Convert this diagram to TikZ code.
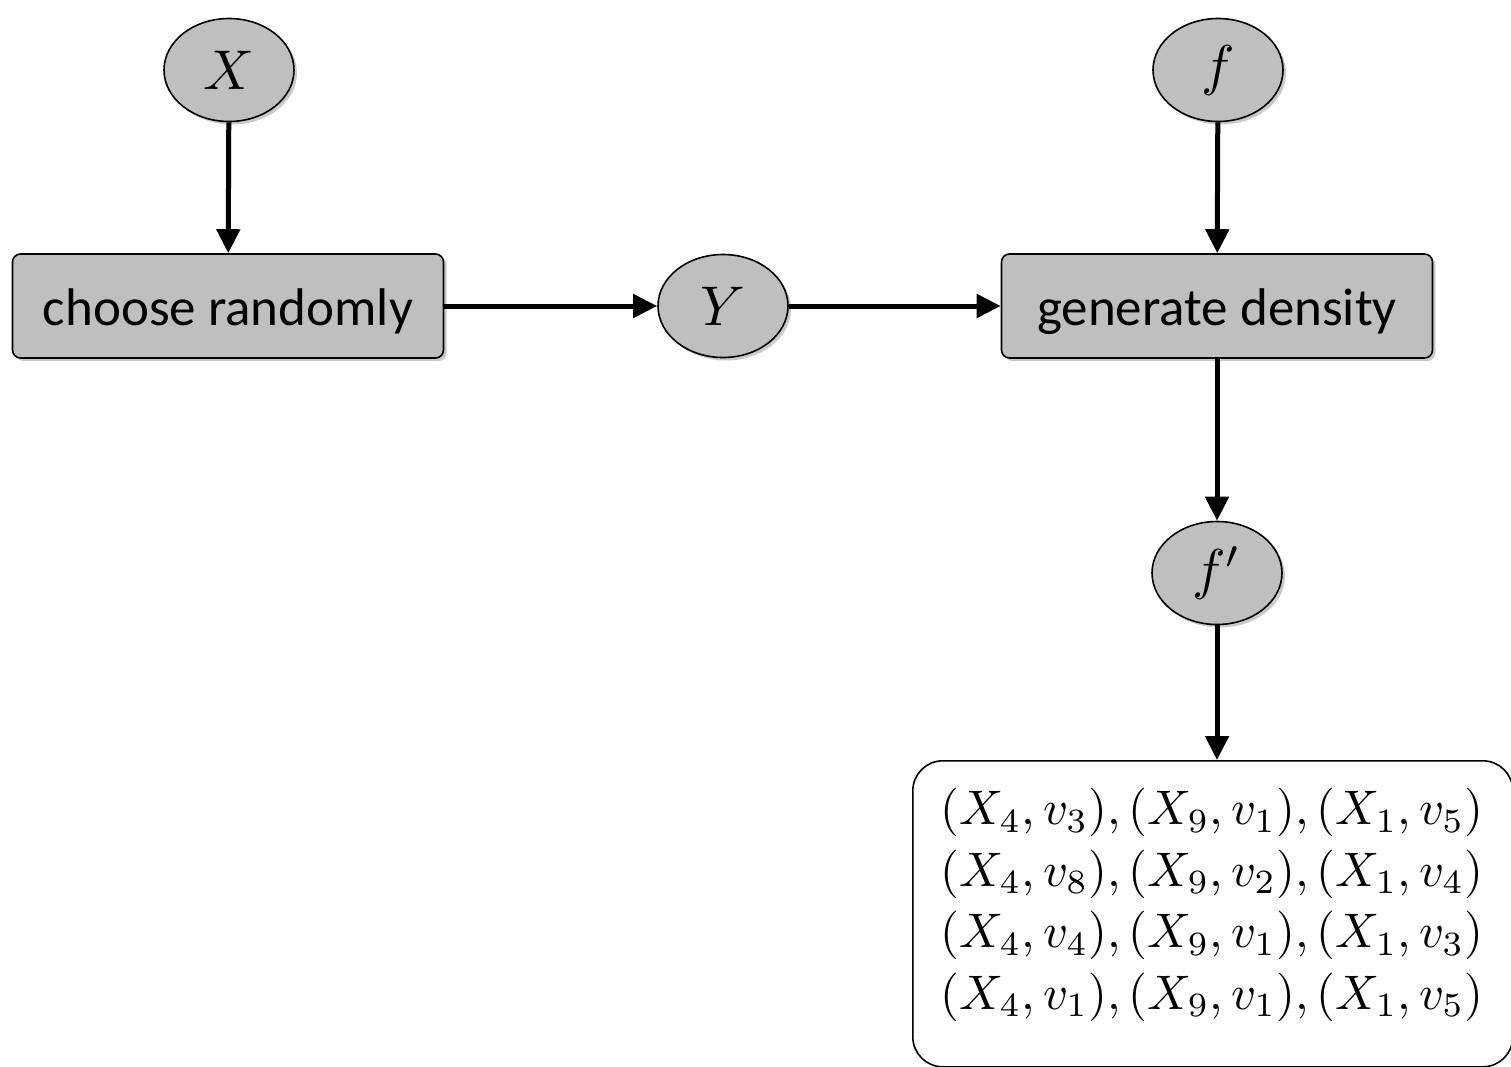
\documentclass[tikz,border=0pt]{standalone}
\usepackage{fontspec}
\setmainfont{Carlito}
\usetikzlibrary{shapes.geometric,arrows.meta,shadows}
\newcommand{\varlabel}[1]{\scalebox{5.6}{$#1$}}
\begin{document}
\begin{tikzpicture}[x=1pt,y=-1pt,
  shad/.style={drop shadow={shadow xshift=3pt,shadow yshift=-3pt,opacity=0.35,fill=black!60}},
  var/.style={ellipse,draw=black,line width=1.6pt,fill=gray!50,minimum width=130pt,minimum height=103pt,inner sep=0pt,shad},
  proc/.style={rectangle,rounded corners=8pt,draw=black,line width=1.6pt,fill=gray!50,minimum width=431pt,minimum height=104pt,inner sep=0pt,shad,font=\fontsize{53}{62}\selectfont,text height=38pt,text depth=0pt},
  conn/.style={line width=5pt,-{Triangle[length=24pt,width=23pt]}}]
\useasboundingbox (0,0) rectangle (1511,1066);
\node[var] (X) at (229,70) {\varlabel{X}};
\node[proc] (C) at (228,306) {choose randomly};
\node[var] (Y) at (723,306) {\varlabel{Y}};
\node[proc] (G) at (1217,306) {generate density};
\node[var] (F) at (1218,70) {\varlabel{f}};
\node[var] (Fp) at (1217,573) {\varlabel{f'}};
\node[rectangle,rounded corners=30pt,draw=black,line width=1.6pt,minimum width=600pt,minimum height=306pt,inner sep=0pt,anchor=north west] (B) at (912,760) {};
\node[align=center,scale=4.85,font=\fontsize{10}{12.7}\selectfont,inner sep=0pt] (T) at (1212,905) {$(X_4,v_3),(X_9,v_1),(X_1,v_5)$\\$(X_4,v_8),(X_9,v_2),(X_1,v_4)$\\$(X_4,v_4),(X_9,v_1),(X_1,v_3)$\\$(X_4,v_1),(X_9,v_1),(X_1,v_5)$};
\draw[conn] (X) -- (C);
\draw[conn] (C) -- (Y);
\draw[conn] (Y) -- (G);
\draw[conn] (F) -- (G);
\draw[conn] (G) -- (Fp);
\draw[conn] (Fp) -- (Fp |- B.north);
\end{tikzpicture}
\end{document}
